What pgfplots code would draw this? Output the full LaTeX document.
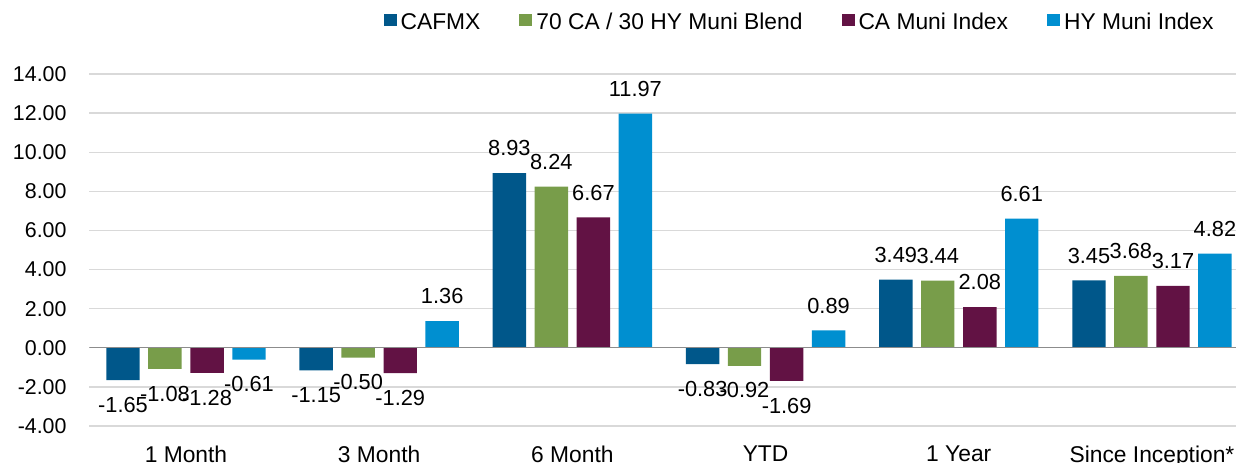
\documentclass[border=0pt]{standalone}
\usepackage{fontspec}
\setmainfont{Liberation Sans}
\usepackage{pgfplots}
\pgfplotsset{compat=1.18}
\definecolor{cafmx}{HTML}{00578A}
\definecolor{blend}{HTML}{789D4A}
\definecolor{camuni}{HTML}{621244}
\definecolor{hymuni}{HTML}{008FD0}
\definecolor{gridc}{HTML}{D9D9D9}
\begin{document}
\begin{tikzpicture}
\begin{axis}[
  scale only axis,
  width=573.3pt, height=176pt,
  xmin=-0.5, xmax=5.435,
  ymin=-4, ymax=14,
  ytick={-4,-2,...,14},
  xtick={0,1,2,3,4,5},
  xticklabels={1 Month,3 Month,6 Month,YTD,1 Year,Since Inception*},
  font=\fontsize{10.8}{12}\selectfont,
  /pgf/number format/assume math mode=true,
  yticklabel={\pgfmathprintnumber[fixed,fixed zerofill,precision=2]{\tick}},
  yticklabel style={xshift=-7.9pt, font=\fontsize{10.7}{12}\selectfont},
  xticklabel style={yshift=-6.5pt, font=\fontsize{11.4}{13}\selectfont},
  axis line style={draw=none},
  major tick length=0pt,
  ymajorgrids,
  grid style={color=gridc, line width=0.7pt},
  ybar, bar width=0.173,
  nodes near coords={\pgfmathprintnumber[fixed,fixed zerofill,precision=2]{\pgfplotspointmeta}},
  every node near coord/.append style={inner xsep=0pt, inner ysep=8.3pt, font=\fontsize{10.9}{12}\selectfont, text=black},
  legend columns=4,
  legend image code/.code={\fill[#1,draw=none] (0pt,-1.3pt) rectangle (6.5pt,4.7pt);},
  legend style={at={(rel axis cs:1,1)}, anchor=east, xshift=-9pt, yshift=25.5pt,
    draw=none, inner sep=0pt, fill=none,
    /tikz/every odd column/.append style={column sep=0pt},
    /tikz/every even column/.append style={column sep=17.5pt},
    font=\fontsize{11.4}{13}\selectfont},
]
\addplot[fill=cafmx, draw=none, bar shift=-0.326] coordinates {(0,-1.65) (1,-1.15) (2,8.93) (3,-0.83) (4,3.49) (5,3.45)};
\addplot[fill=blend, draw=none, bar shift=-0.109] coordinates {(0,-1.08) (1,-0.50) (2,8.24) (3,-0.92) (4,3.44) (5,3.68)};
\addplot[fill=camuni, draw=none, bar shift=0.109] coordinates {(0,-1.28) (1,-1.29) (2,6.67) (3,-1.69) (4,2.08) (5,3.17)};
\addplot[fill=hymuni, draw=none, bar shift=0.326] coordinates {(0,-0.61) (1,1.36) (2,11.97) (3,0.89) (4,6.61) (5,4.82)};
\legend{CAFMX,70 CA / 30 HY Muni Blend,CA Muni Index,HY Muni Index}
\draw[color=gray!90, line width=0.7pt] (axis cs:-0.5,0) -- (axis cs:5.435,0);
\coordinate (sw) at (rel axis cs:0,0);
\coordinate (ne) at (rel axis cs:1,1);
\end{axis}
\pgfresetboundingbox
\path[use as bounding box] ([xshift=-44.7pt,yshift=-18pt]sw) rectangle ([yshift=37pt]ne);
\end{tikzpicture}
\end{document}
